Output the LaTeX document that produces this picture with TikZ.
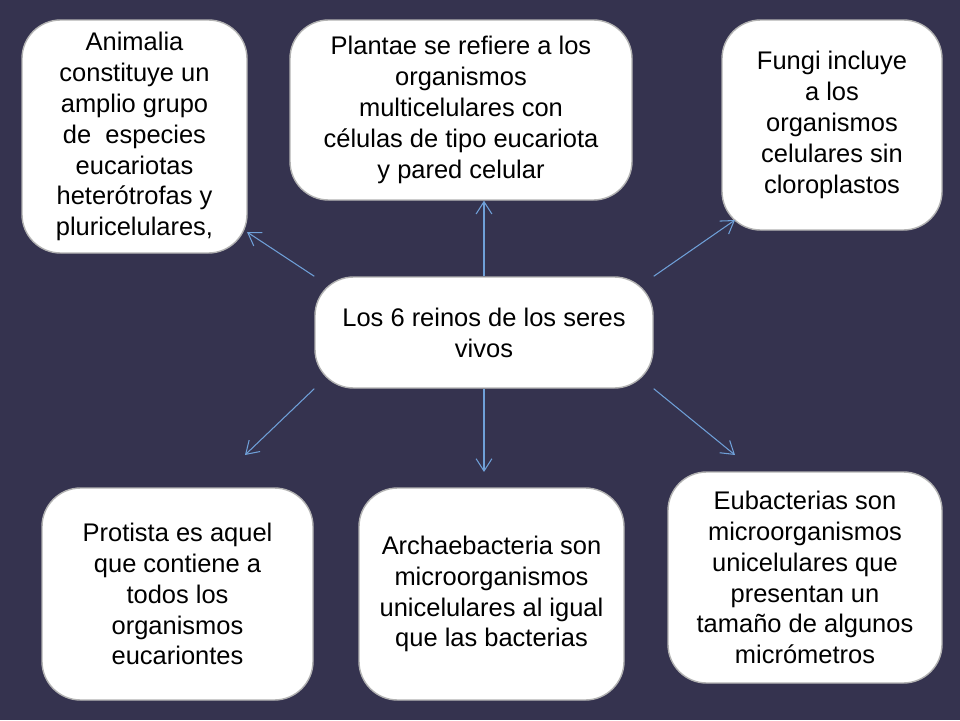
\documentclass[tikz,border=0pt]{standalone}
\usepackage{fontspec}
\setmainfont{Liberation Sans}
\usetikzlibrary{arrows.meta}
\definecolor{fondo}{HTML}{35334F}
\definecolor{flecha}{HTML}{6FA0D8}
\tikzset{
  caja/.style={draw=gray!60, line width=.8pt, fill=white, rounded corners=22pt,
    align=center, font=\fontsize{14.5}{17.6}\selectfont, inner sep=2pt},
  enlace/.style={flecha, line width=.6pt, -{Straight Barb[length=7pt,width=9pt]}}
}
\begin{document}
\begin{tikzpicture}[x=0.02cm, y=-0.02cm]
        \fill[fondo] (0,0) rectangle (960,720);
        \node[caja, minimum width=338*0.02cm, minimum height=111*0.02cm] (reinos) at (484,332.5)
            {Los 6 reinos de los seres\\vivos};
        \node[caja, minimum width=225*0.02cm, minimum height=233*0.02cm] (animalia) at (134.5,136.5)
            {Animalia\\constituye un\\amplio grupo\\de\ \ especies\\eucariotas\\heterótrofas y\\pluricelulares,};
        \node[caja, minimum width=342*0.02cm, minimum height=180*0.02cm] (plantae) at (461,110)
            {Plantae se refiere a los\\organismos\\multicelulares con\\células de tipo eucariota\\y pared celular};
        \node[caja, minimum width=220*0.02cm, minimum height=210*0.02cm] (fungi) at (832,125)
            {Fungi incluye\\a los\\organismos\\celulares sin\\cloroplastos};
        \node[caja, minimum width=271*0.02cm, minimum height=212*0.02cm] (protista) at (177.5,594)
            {Protista es aquel\\que contiene a\\todos los\\organismos\\eucariontes};
        \node[caja, minimum width=265*0.02cm, minimum height=212*0.02cm] (archae) at (491.5,594)
            {Archaebacteria son\\microorganismos\\unicelulares al igual\\que las bacterias};
        \node[caja, minimum width=274*0.02cm, minimum height=211*0.02cm] (eubac) at (805,577.5)
            {Eubacterias son\\microorganismos\\unicelulares que\\presentan un\\tamaño de algunos\\micrómetros};
        % flechas
        \coordinate (aAnimalia) at (247,232);
        \coordinate (aFungi) at (735,220);
        \coordinate (aProtista) at (245,455);
        \coordinate (aArchae) at (484,472);
        \coordinate (aEubac) at (735,455);
        \draw[enlace] (reinos.north west) -- (aAnimalia);
        \draw[enlace] (reinos.north) -- (plantae.south -| reinos.north);
        \draw[enlace] (reinos.north east) -- (aFungi);
        \draw[enlace] (reinos.south west) -- (aProtista);
        \draw[enlace] (reinos.south) -- (aArchae);
        \draw[enlace] (reinos.south east) -- (aEubac);
\end{tikzpicture}
\end{document}
